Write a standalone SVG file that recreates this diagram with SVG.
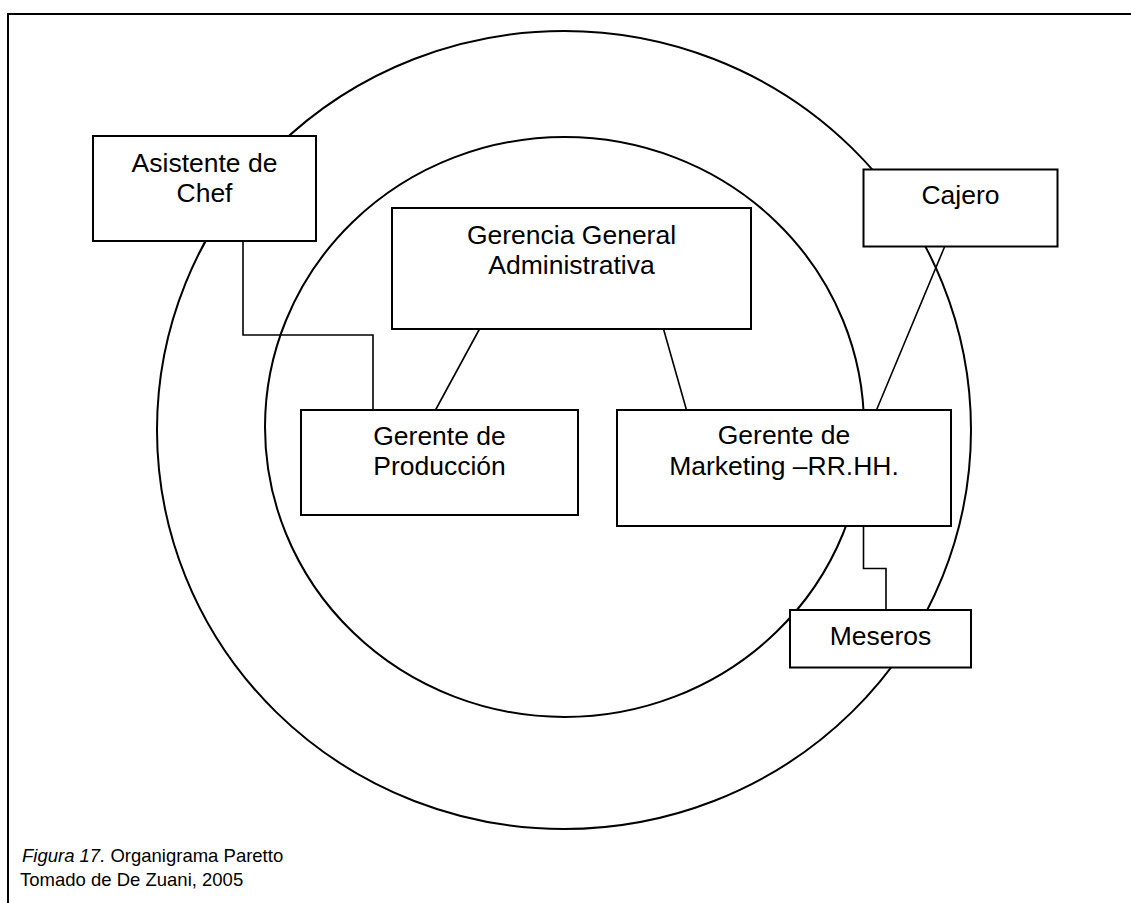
<svg xmlns="http://www.w3.org/2000/svg" width="1131" height="903" viewBox="0 0 1131 903">
<style>
.box{fill:#fff;stroke:#000;stroke-width:2}
.ring{fill:none;stroke:#000;stroke-width:2}
.con{fill:none;stroke:#000;stroke-width:1.6}
.t{font-family:"Liberation Sans",Arial,sans-serif;font-size:26.5px;fill:#000;text-anchor:middle}
.cap{font-family:"Liberation Sans",Arial,sans-serif;font-size:18.5px;fill:#000}
</style>
<rect width="1131" height="903" fill="#fff"/>
<path d="M8,903 V14 H1131" fill="none" stroke="#000" stroke-width="2"/>
<g id="rings">
<ellipse class="ring" cx="564" cy="430" rx="407" ry="399"/>
<ellipse class="ring" cx="564.5" cy="427" rx="299.5" ry="290"/>
</g>
<g id="connectors">
<polyline class="con" points="243,241 243,335 373,335 373,410"/>
<line class="con" x1="479.5" y1="329" x2="435.5" y2="410"/>
<line class="con" x1="663.5" y1="329" x2="686.5" y2="410"/>
<line class="con" x1="944.5" y1="247" x2="876.5" y2="410"/>
<polyline class="con" points="863.5,526 863.5,568.5 886,568.5 886,610"/>
</g>
<g id="asistente">
<rect class="box" x="93" y="136" width="223" height="105"/>
<text class="t" x="204.5" y="172">Asistente de</text>
<text class="t" x="204.5" y="202">Chef</text>
</g>
<g id="cajero">
<rect class="box" x="863.5" y="169.5" width="194" height="77"/>
<text class="t" x="960.5" y="204">Cajero</text>
</g>
<g id="gerencia">
<rect class="box" x="392" y="208" width="359" height="121"/>
<text class="t" x="571.5" y="244">Gerencia General</text>
<text class="t" x="571.5" y="274">Administrativa</text>
</g>
<g id="produccion">
<rect class="box" x="301" y="410" width="277" height="105"/>
<text class="t" x="439.5" y="445">Gerente de</text>
<text class="t" x="439.5" y="475">Producción</text>
</g>
<g id="marketing">
<rect class="box" x="617" y="410" width="334" height="116"/>
<text class="t" x="784" y="444">Gerente de</text>
<text class="t" x="784" y="475">Marketing –RR.HH.</text>
</g>
<g id="meseros">
<rect class="box" x="790" y="610" width="181" height="57.5"/>
<text class="t" x="880.5" y="645">Meseros</text>
</g>
<g id="caption">
<text class="cap" x="22" y="862"><tspan font-style="italic">Figura 17.</tspan> Organigrama Paretto</text>
<text class="cap" x="20" y="886">Tomado de De Zuani, 2005</text>
</g>
</svg>
